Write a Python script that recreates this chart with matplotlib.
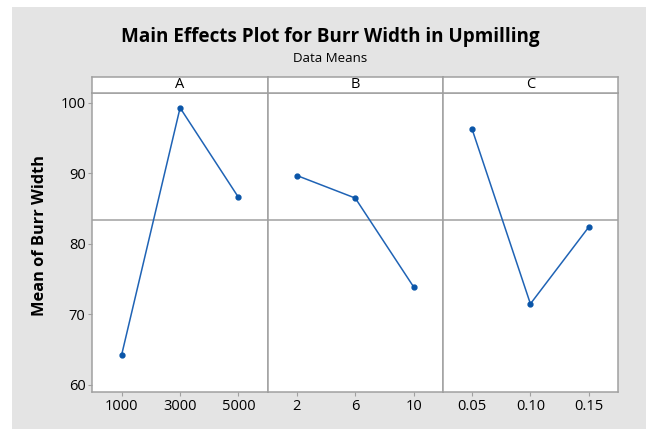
import matplotlib.pyplot as plt
from matplotlib.patches import Rectangle
import numpy as np

plt.rcParams['font.family'] = ['Open Sans', 'DejaVu Sans']

# factor levels and means
factors = ["A", "B", "C"]
levels_a = ["1000", "3000", "5000"]
levels_b = ["2", "6", "10"]
levels_c = ["0.05", "0.10", "0.15"]
means_a = [64.3, 99.3, 86.6]
means_b = [89.7, 86.5, 73.9]
means_c = [96.3, 71.5, 82.4]

levels = [levels_a, levels_b, levels_c]
means = [means_a, means_b, means_c]
grand_mean = np.mean(means_a + means_b + means_c)

W, H = 646, 429
fig = plt.figure(figsize=(W / 100, H / 100), dpi=100)
fig.patch.set_facecolor("white")

# gray background panel
fig.patches.append(Rectangle((12 / W, 0), 1 - 12 / W, 1 - 7 / H,
                             transform=fig.transFigure, facecolor="#e4e4e4",
                             edgecolor="none", zorder=-10))

edge = "#a0a0a0"
left, right = 92.5, 618
bottom, top, strip_top = 392, 93, 77
pw = (right - left) / 3

for i in range(3):
    x0 = left + i * pw
    ax = fig.add_axes([x0 / W, 1 - bottom / H, pw / W, (bottom - top) / H])
    ax.set_facecolor("white")
    xs = np.arange(1, 4)
    ax.axhline(grand_mean, color="#a0a0a0", lw=1.1, zorder=1)
    ax.plot(xs, means[i], color="#1f63b5", lw=1.1, marker="o", ms=3.5,
            mfc="#0a55a8", mec="#0a55a8", zorder=3)
    ax.set_xlim(0.5, 3.5)
    ax.set_ylim(59.0, 101.4)
    ax.set_xticks(xs)
    ax.set_xticklabels(levels[i], fontsize=10.5)
    ax.set_yticks([60, 70, 80, 90, 100])
    for s in ax.spines.values():
        s.set_color(edge)
        s.set_linewidth(1.1)
    ax.tick_params(axis="x", length=3, color=edge, pad=2)
    if i == 0:
        ax.tick_params(axis="y", length=3, color=edge, labelsize=10.5, pad=2)
        ax.set_ylabel("Mean of Burr Width", fontsize=11.8, fontweight="bold")
        ax.yaxis.set_label_coords(-0.255, 0.525)
    else:
        ax.tick_params(axis="y", length=0, labelleft=False)

    # strip header
    sx = fig.add_axes([x0 / W, 1 - top / H, pw / W, (top - strip_top) / H])
    sx.set_facecolor("white")
    sx.set_xticks([])
    sx.set_yticks([])
    for s in sx.spines.values():
        s.set_color(edge)
        s.set_linewidth(1.1)
    sx.text(0.5, 0.5, factors[i], ha="center", va="center", fontsize=10.5,
            transform=sx.transAxes)

fig.text(330 / W, 1 - 37 / H, "Main Effects Plot for Burr Width in Upmilling",
         ha="center", va="center", fontsize=13.6, fontweight="bold")
fig.text(330 / W, 1 - 58 / H, "Data Means", ha="center", va="center", fontsize=9.5)

fig.savefig("out.png", dpi=100)
